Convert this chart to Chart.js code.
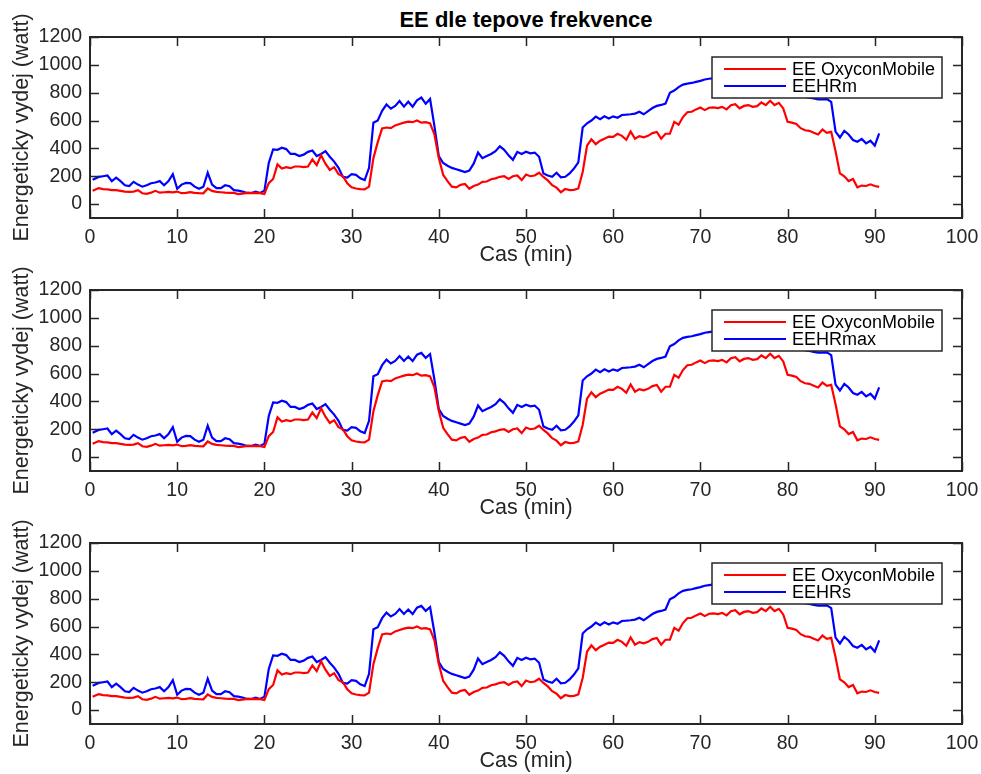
<!DOCTYPE html>
<html><head><meta charset="utf-8">
<script src="https://cdn.jsdelivr.net/npm/chart.js@4.4.1/dist/chart.umd.min.js"></script>
<style>
html,body{margin:0;padding:0;background:#fff;}
body{width:981px;height:774px;position:relative;overflow:hidden;font-family:"Liberation Sans",Arial,sans-serif;}
canvas{position:absolute;left:0;}
#title{position:absolute;left:90px;width:872px;top:6px;text-align:center;font-weight:bold;font-size:22px;color:#000;line-height:27px;}
</style>
</head><body>
<div id="title">EE dle tepove frekvence</div>
<canvas id="c1" width="981" height="268" style="top:0px"></canvas>
<canvas id="c2" width="981" height="268" style="top:253px"></canvas>
<canvas id="c3" width="981" height="268" style="top:506px"></canvas>
<script>
const minutes = [0.3,1,1.5,2,2.5,3,3.5,4,4.5,5,5.5,6,6.5,7,7.5,8,8.5,9,9.5,10,10.5,11,11.5,12,12.5,13,13.5,14,14.5,15,15.5,16,16.5,17,17.5,18,18.5,19,19.5,20,20.5,21,21.5,22,22.5,23,23.5,24,24.5,25,25.5,26,26.5,27,27.5,28,28.5,29,29.5,30,30.5,31,31.5,32,32.5,33,33.5,34,34.5,35,35.5,36,36.5,37,37.5,38,38.5,39,39.5,40,40.5,41,41.5,42,42.5,43,43.5,44,44.5,45,45.5,46,46.5,47,47.5,48,48.5,49,49.5,50,50.5,51,51.5,52,52.5,53,53.5,54,54.5,55,55.5,56,56.5,57,57.5,58,58.5,59,59.5,60,60.5,61,61.5,62,62.5,63,63.5,64,64.5,65,65.5,66,66.5,67,67.5,68,68.5,69,69.5,70,70.5,71,71.5,72,72.5,73,73.5,74,74.5,75,75.5,76,76.5,77,77.5,78,78.5,79,79.5,80,80.5,81,81.5,82,82.5,83,83.5,84,84.5,85,85.5,86,86.5,87,87.5,88,88.5,89,89.5,90,90.5];

const eeOxycon = [95,115,108,105,100,100,95,90,88,90,100,78,74,82,95,82,85,88,84,90,78,80,86,80,78,77,112,95,88,85,82,80,80,72,75,80,78,80,78,72,150,180,285,255,265,258,270,270,265,270,320,280,350,290,245,265,215,200,150,120,112,108,105,125,330,445,543,550,545,565,575,585,592,588,600,585,588,580,500,330,210,165,125,120,138,144,110,130,140,160,162,178,185,196,200,180,200,205,172,212,200,205,225,195,170,136,118,85,108,100,102,112,230,420,465,430,455,470,485,482,505,490,462,522,470,488,480,490,510,518,470,505,505,590,570,625,660,663,680,694,675,692,694,690,698,680,710,718,688,705,711,699,703,730,711,742,711,727,687,591,585,575,545,530,526,512,500,535,512,519,380,220,200,165,180,120,133,130,142,130,124];

const eeHRm = [175,195,200,205,165,190,165,135,130,160,140,125,135,150,155,165,135,165,215,110,140,152,150,125,110,124,225,140,115,115,135,128,100,96,90,80,80,90,80,95,295,392,390,405,395,360,360,345,355,375,385,345,360,380,340,305,260,195,190,215,210,185,172,260,584,600,670,715,685,705,740,700,735,700,745,765,720,755,560,345,295,275,260,250,240,230,240,290,370,330,345,360,380,415,390,350,318,375,360,376,365,370,340,220,205,196,225,192,196,220,255,300,550,580,600,628,610,630,615,630,620,640,642,645,650,663,645,668,690,705,712,722,799,815,840,858,865,870,878,885,895,900,905,908,912,915,918,915,920,918,925,922,928,930,925,932,928,930,880,810,795,790,780,770,765,758,752,752,754,734,520,478,525,500,460,448,468,436,455,420,507];

const eeHRmax = [175,195,200,205,165,190,165,135,130,160,140,125,135,150,155,165,135,165,215,110,140,152,150,125,110,124,225,140,115,115,135,128,100,96,90,80,80,90,80,95,295,392,390,405,395,360,360,345,355,375,385,345,360,380,340,305,260,195,190,215,210,185,172,260,580,595,660,700,672,690,725,690,722,690,735,748,712,740,555,345,295,275,260,250,240,230,240,290,370,330,345,360,380,415,390,350,318,375,360,376,365,370,340,220,205,196,225,192,196,220,255,300,550,580,600,628,610,630,615,630,620,640,642,645,650,663,645,668,690,705,712,722,795,812,838,856,863,868,876,883,893,898,903,906,910,913,916,913,918,916,922,920,925,927,922,930,925,928,878,808,793,788,778,768,763,756,750,750,752,732,520,478,525,500,460,448,468,436,455,420,500];

const eeHRs = [175,195,200,205,165,190,165,135,130,160,140,125,135,150,155,165,135,165,215,110,140,152,150,125,110,124,225,140,115,115,135,128,100,96,90,80,80,90,80,95,295,392,390,405,395,360,360,345,355,375,385,345,360,380,340,305,260,195,190,215,210,185,172,260,580,595,660,700,672,690,725,690,722,690,735,748,712,740,555,345,295,275,260,250,240,230,240,290,370,330,345,360,380,415,390,350,318,375,360,376,365,370,340,220,205,196,225,192,196,220,255,300,550,580,600,628,610,630,615,630,620,640,642,645,650,663,645,668,690,705,712,722,795,812,838,856,863,868,876,883,893,898,903,906,910,913,916,913,918,916,922,920,925,927,922,930,925,928,878,808,793,788,778,768,763,756,750,750,752,732,520,478,525,500,460,448,468,436,455,420,500];

const xTicks = [0,10,20,30,40,50,60,70,80,90,100];
const yTicks = [0,200,400,600,800,1000,1200];
const xTitle = 'Cas (min)';
const yTitle = 'Energeticky vydej (watt)';
const refLabel = 'EE OxyconMobile';

const FONT = '"Liberation Sans", Arial, Helvetica, sans-serif';
const AXC = '#262626';

const boxPlugin = {
  id: 'matlabBox',
  afterDatasetsDraw(chart) {
    const ctx = chart.ctx, a = chart.chartArea;
    const xs = chart.scales.x, ys = chart.scales.y;
    ctx.save();
    ctx.strokeStyle = AXC; ctx.lineWidth = 1.5;
    const TL = 9;
    ctx.beginPath();
    xTicks.forEach(v => {
      const px = Math.round(xs.getPixelForValue(v)) + 0.5;
      ctx.moveTo(px, a.bottom); ctx.lineTo(px, a.bottom - TL);
      ctx.moveTo(px, a.top); ctx.lineTo(px, a.top + TL);
    });
    yTicks.forEach(v => {
      const py = Math.round(ys.getPixelForValue(v)) + 0.5;
      ctx.moveTo(a.left, py); ctx.lineTo(a.left + TL, py);
      ctx.moveTo(a.right, py); ctx.lineTo(a.right - TL, py);
    });
    ctx.stroke();
    ctx.lineWidth = 2;
    ctx.strokeRect(a.left, a.top, a.right - a.left, a.bottom - a.top);
    // legend
    const ds = chart.data.datasets;
    const bw = 230, bh = 41;
    const bx = a.right - 20 - bw, by = a.top + 20;
    ctx.fillStyle = '#fff';
    ctx.fillRect(bx, by, bw, bh);
    ctx.lineWidth = 1.5; ctx.strokeStyle = AXC;
    ctx.strokeRect(bx, by, bw, bh);
    ctx.font = '18px ' + FONT;
    ctx.textBaseline = 'middle'; ctx.textAlign = 'left';
    ds.forEach((d, i) => {
      const yy = by + 12 + i * 17;
      ctx.strokeStyle = d.borderColor; ctx.lineWidth = 2;
      ctx.beginPath(); ctx.moveTo(bx + 12, yy); ctx.lineTo(bx + 74, yy); ctx.stroke();
      ctx.fillStyle = '#000';
      ctx.fillText(d.label, bx + 80, yy + 1);
    });
    ctx.restore();
  }
};

function makeChart(id, label2, series2) {
  const pts = (arr) => minutes.map((t, i) => ({x: t, y: arr[i]}));
  return new Chart(document.getElementById(id), {
    type: 'line',
    data: {
      datasets: [
        {label: refLabel, data: pts(eeOxycon), borderColor: '#ff0000', borderWidth: 2.2, pointRadius: 0, tension: 0, fill: false},
        {label: label2, data: pts(series2), borderColor: '#0000ff', borderWidth: 2.2, pointRadius: 0, tension: 0, fill: false}
      ]
    },
    options: {
      responsive: false, animation: false, devicePixelRatio: 1,
      layout: {padding: {top: 37, right: 19, left: 0, bottom: 0}},
      plugins: {legend: {display: false}, tooltip: {enabled: false}, title: {display: false}},
      scales: {
        x: {
          type: 'linear', min: 0, max: 100,
          afterBuildTicks: s => { s.ticks = xTicks.map(v => ({value: v})); },
          afterFit: s => { s.height = 50; s.paddingLeft = 0; s.paddingRight = 0; },
          grid: {display: false, drawTicks: false}, border: {display: false},
          ticks: {color: AXC, font: {family: FONT, size: 19.5}, padding: 8, maxRotation: 0, autoSkip: false, callback: v => String(v)},
          title: {display: true, text: xTitle, color: AXC, font: {family: FONT, size: 21.5}, padding: {top: 0, bottom: 0}}
        },
        y: {
          type: 'linear', min: -100, max: 1200,
          afterBuildTicks: s => { s.ticks = yTicks.map(v => ({value: v})); },
          afterFit: s => { s.width = 90; s.paddingTop = 0; s.paddingBottom = 0; },
          grid: {display: false, drawTicks: false}, border: {display: false},
          ticks: {color: AXC, font: {family: FONT, size: 19.5}, padding: 8, autoSkip: false, callback: v => String(v)},
          title: {display: true, text: yTitle, color: AXC, font: {family: FONT, size: 21.5}, padding: {top: 9, bottom: 0}}
        }
      }
    },
    plugins: [boxPlugin]
  });
}
makeChart('c1', 'EEHRm', eeHRm);
makeChart('c2', 'EEHRmax', eeHRmax);
makeChart('c3', 'EEHRs', eeHRs);
</script>
</body></html>
